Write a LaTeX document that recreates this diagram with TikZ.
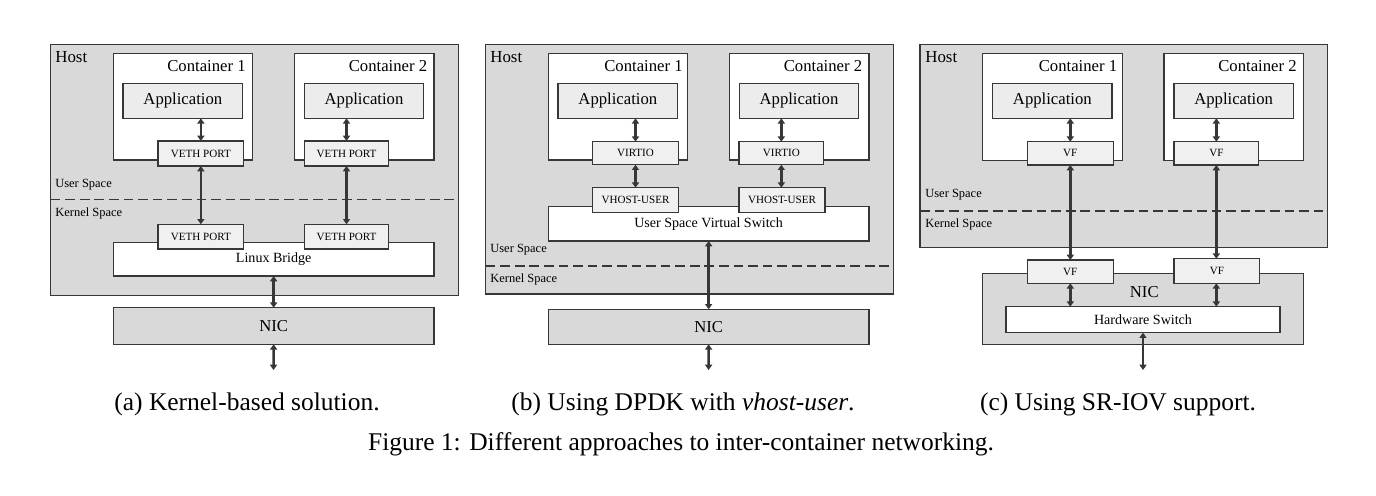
\documentclass[tikz,border=0pt]{standalone}
\usepackage{fontspec}
\setmainfont{Liberation Serif}
\usetikzlibrary{arrows.meta}
\definecolor{hostgray}{RGB}{217,217,217}
\definecolor{appgray}{RGB}{236,236,236}
\definecolor{portgray}{RGB}{240,240,240}
\definecolor{edge}{RGB}{55,55,55}
\newcommand{\bx}[7]{\node[#6, minimum width={(#4-#2)*0.02cm}, minimum height={(#5-#3)*0.02cm}] (#1) at ({(#2+#4)/2},{(#3+#5)/2}) {#7};}
\tikzset{
  base/.style={draw=edge, line width=0.8pt, inner sep=0pt, outer sep=0pt},
  hostbox/.style={base, fill=hostgray},
  contbox/.style={base, fill=white},
  appbox/.style={base, fill=appgray, font=\fontsize{9.5}{11}\selectfont},
  portbox/.style={base, fill=portgray, font=\fontsize{6.3}{7}\selectfont},
  whitebar/.style={base, fill=white, font=\fontsize{8}{9}\selectfont},
  nicbox/.style={base, fill=hostgray, font=\fontsize{9.5}{11}\selectfont},
  spacelbl/.style={anchor=west, inner sep=0pt, font=\fontsize{7.1}{8}\selectfont},
  hostlbl/.style={anchor=north west, inner sep=0pt, font=\fontsize{9.6}{11}\selectfont},
  contlbl/.style={anchor=north east, inner sep=0pt, font=\fontsize{9.5}{11}\selectfont},
  divider/.style={draw=edge, line width=0.8pt, dash pattern=on 5.5pt off 2.8pt},
  biarrow/.style={draw=edge, line width=1.4pt, {Triangle[length=3pt,width=4pt]}-{Triangle[length=3pt,width=4pt]}},
  caption/.style={font=\fontsize{14.5}{17}\selectfont, inner sep=0pt}
}
\begin{document}
\begin{tikzpicture}[x={(0.02cm,0)}, y={(0,-0.02cm)}]
\useasboundingbox (0,0) rectangle (1376,496);
% ---------------- (a) ----------------
\bx{hA}{50.7}{44.3}{458.3}{295.7}{hostbox}{}
\node[hostlbl] (hAl) at (55,51.5) {Host};
\bx{cA1}{113.3}{53.3}{252.7}{160}{contbox}{}
\bx{cA2}{294.3}{53.3}{434}{160}{contbox}{}
\node[contlbl] (cA1l) at (246,60.5) {Container 1};
\node[contlbl] (cA2l) at (427.5,60.5) {Container 2};
\bx{aA1}{123}{83.3}{242.7}{118.3}{appbox}{\raisebox{-0.3ex}{Application}}
\bx{aA2}{304.3}{83.3}{423.7}{118.3}{appbox}{\raisebox{-0.3ex}{Application}}
\bx{vA1}{158}{141}{243.7}{166}{portbox}{VETH PORT}
\bx{vA2}{304.3}{141}{388.7}{166}{portbox}{VETH PORT}
\node[spacelbl] (uA) at (55,185) {User Space};
\draw[divider] (hA.west |- 0,199.3) -- (hA.east |- 0,199.3);
\node[spacelbl] (kA) at (55,214) {Kernel Space};
\bx{bA}{113.3}{242.7}{434}{276}{whitebar}{\raisebox{-1.4ex}{Linux Bridge}}
\bx{wA1}{158}{224.3}{243.7}{249}{portbox}{VETH PORT}
\bx{wA2}{304.3}{224.3}{388.7}{249}{portbox}{VETH PORT}
\bx{nA}{113.3}{307.7}{434}{344.3}{nicbox}{NIC}
\coordinate (eA) at (273.5,370);
\draw[biarrow] (vA1.north) -- (vA1.north |- aA1.south);
\draw[biarrow] (vA2.north) -- (vA2.north |- aA2.south);
\draw[biarrow] (vA1.south) -- (wA1.north);
\draw[biarrow] (vA2.south) -- (wA2.north);
\draw[biarrow] (bA.south) -- (nA.north);
\draw[biarrow] (nA.south) -- (eA);
% ---------------- (b) ----------------
\bx{hB}{485.7}{44.3}{893.3}{294}{hostbox}{}
\node[hostlbl] (hBl) at (490,51.5) {Host};
\bx{cB1}{548.3}{53.3}{687.7}{160}{contbox}{}
\bx{cB2}{729.3}{53.3}{869}{160}{contbox}{}
\node[contlbl] (cB1l) at (683,60.5) {Container 1};
\node[contlbl] (cB2l) at (862.5,60.5) {Container 2};
\bx{aB1}{558}{83.3}{677.7}{118.3}{appbox}{\raisebox{-0.3ex}{Application}}
\bx{aB2}{739.3}{83.3}{858.7}{118.3}{appbox}{\raisebox{-0.3ex}{Application}}
\bx{vB1}{592.7}{141.7}{678.3}{164.7}{portbox}{VIRTIO}
\bx{vB2}{739}{141.7}{823.7}{164.7}{portbox}{VIRTIO}
\bx{sB}{548.3}{206.7}{869}{241}{whitebar}{\raisebox{-1ex}{User Space Virtual Switch}}
\bx{wB1}{592.7}{187.7}{678.3}{212.7}{portbox}{VHOST-USER}
\bx{wB2}{739}{187.7}{825}{212.7}{portbox}{VHOST-USER}
\node[spacelbl] (uB) at (490,250) {User Space};
\draw[divider] (hB.west |- 0,266) -- (hB.east |- 0,266);
\node[spacelbl] (kB) at (490,280) {Kernel Space};
\bx{nB}{548.3}{309.3}{869}{344.3}{nicbox}{NIC}
\coordinate (eB) at (708.6,370);
\draw[biarrow] (vB1.north) -- (vB1.north |- aB1.south);
\draw[biarrow] (vB2.north) -- (vB2.north |- aB2.south);
\draw[biarrow] (vB1.south) -- (wB1.north);
\draw[biarrow] (vB2.south) -- (vB2.south |- wB2.north);
\draw[biarrow] (sB.south) -- (nB.north);
\draw[biarrow] (nB.south) -- (eB);
% ---------------- (c) ----------------
\bx{hC}{920}{44.3}{1327.7}{247.7}{hostbox}{}
\node[hostlbl] (hCl) at (925,51.5) {Host};
\bx{cC1}{982.7}{53.3}{1122.3}{160.7}{contbox}{}
\bx{cC2}{1164}{53.3}{1303.3}{160.7}{contbox}{}
\node[contlbl] (cC1l) at (1117.5,60.5) {Container 1};
\node[contlbl] (cC2l) at (1297,60.5) {Container 2};
\bx{aC1}{992.7}{83.3}{1112}{118.3}{appbox}{\raisebox{-0.3ex}{Application}}
\bx{aC2}{1174}{83.3}{1293.3}{118.3}{appbox}{\raisebox{-0.3ex}{Application}}
\bx{vC1}{1027.3}{141.7}{1113.3}{165}{portbox}{VF}
\bx{vC2}{1174}{141.7}{1258.7}{165}{portbox}{VF}
\node[spacelbl] (uC) at (925,195) {User Space};
\draw[divider] (hC.west |- 0,211) -- (hC.east |- 0,211);
\node[spacelbl] (kC) at (925,225) {Kernel Space};
\bx{nC}{982.7}{273.3}{1303.3}{344.3}{nicbox}{}
\node[font=\fontsize{9.5}{11}\selectfont, inner sep=0pt] (nCl) at (1144.3,292) {NIC};
\bx{wC1}{1027.3}{260}{1113.3}{283.3}{portbox}{VF}
\bx{wC2}{1174}{258.7}{1259.7}{283.3}{portbox}{VF}
\bx{sC}{1006}{306.7}{1280}{332.7}{whitebar}{Hardware Switch}
\coordinate (eC) at (1143,370);
\draw[biarrow] (vC1.north) -- (vC1.north |- aC1.south);
\draw[biarrow] (vC2.north) -- (vC2.north |- aC2.south);
\draw[biarrow] (vC1.south) -- (vC1.south |- wC1.north);
\draw[biarrow] (vC2.south) -- (vC2.south |- wC2.north);
\draw[biarrow] (wC1.south -| vC1.south) -- (vC1.south |- sC.north);
\draw[biarrow] (wC2.south -| vC2.south) -- (vC2.south |- sC.north);
\draw[biarrow] (sC.south) -- (eC);
% ---------------- captions ----------------
\node[caption] (capA) at (247,404) {(a) Kernel-based solution.};
\node[caption] (capB) at (683,404) {(b) Using DPDK with \textit{vhost-user}.};
\node[caption] (capC) at (1118,404) {(c) Using SR-IOV support.};
\node[caption] (fig) at (681,444) {Figure 1: Different approaches to inter-container networking.};
\end{tikzpicture}
\end{document}
